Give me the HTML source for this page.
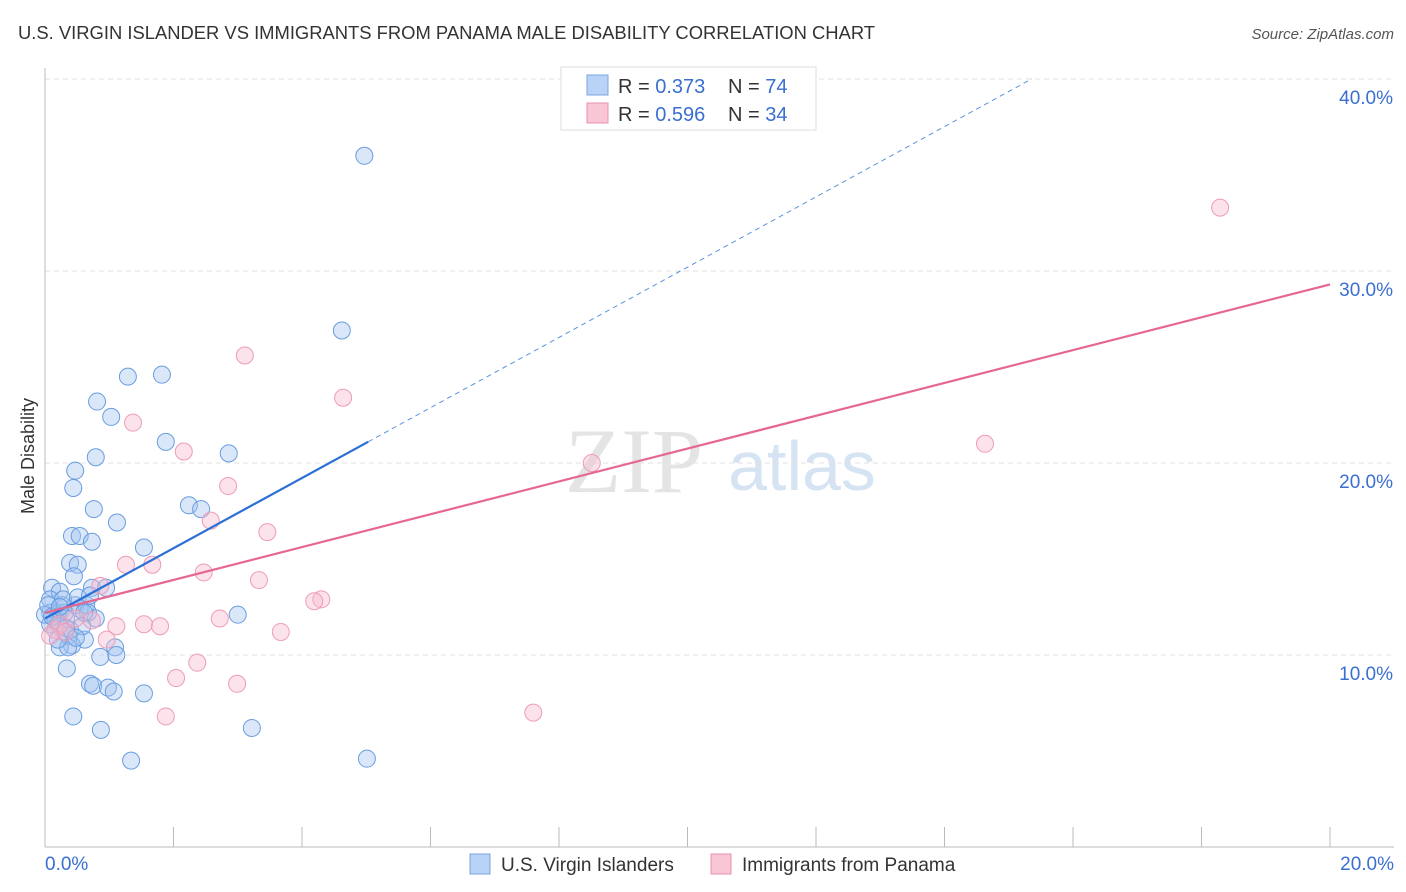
<!DOCTYPE html>
<html><head><meta charset="utf-8">
<style>
body{margin:0;background:#fff;font-family:"Liberation Sans",sans-serif}
svg{display:block}
</style></head>
<body>
<svg id="chart" width="1406" height="892">
<text x="18" y="39" font-size="18.4" fill="#333">U.S. VIRGIN ISLANDER VS IMMIGRANTS FROM PANAMA MALE DISABILITY CORRELATION CHART</text>
<text x="1394" y="39" font-size="15" fill="#555" font-style="italic" text-anchor="end">Source: ZipAtlas.com</text>
<text x="634" y="492" font-size="92" fill="#e4e4e4" font-family="Liberation Serif,serif" text-anchor="middle">ZIP</text>
<text x="802" y="490" font-size="70" fill="#d6e3f3" text-anchor="middle">atlas</text>
<text transform="translate(34,456) rotate(-90)" font-size="18" fill="#333" text-anchor="middle">Male Disability</text>
<g id="grid"></g><g id="ticks"></g><g id="pts"></g><g id="lines"></g>
<g>
<rect x="561" y="67" width="255" height="63" fill="#fff" stroke="#ddd"/>
<rect x="587" y="75" width="21" height="20" fill="#b8d3f5" stroke="#7aa6e0"/>
<rect x="587" y="103" width="21" height="20" fill="#f9c6d5" stroke="#eb92ae"/>
<text x="618" y="93" font-size="20" fill="#333">R = <tspan fill="#3a6fd0">0.373</tspan><tspan x="728">N = </tspan><tspan fill="#3a6fd0">74</tspan></text>
<text x="618" y="121" font-size="20" fill="#333">R = <tspan fill="#3a6fd0">0.596</tspan><tspan x="728">N = </tspan><tspan fill="#3a6fd0">34</tspan></text>
</g>
<g>
<rect x="470" y="854" width="20" height="20" fill="#b8d3f5" stroke="#7aa6e0"/>
<text x="501" y="871" font-size="19" fill="#333">U.S. Virgin Islanders</text>
<rect x="711" y="854" width="20" height="20" fill="#f9c6d5" stroke="#eb92ae"/>
<text x="742" y="871" font-size="19" fill="#333">Immigrants from Panama</text>
</g>
</svg>
<script>
const yTicks=[10,20,30,40];
const xTickLabels=["0.0%","20.0%"];
const blueX=[4.97,4.62,1.29,1.82,0.81,1.03,1.88,2.86,0.79,0.47,0.44,0.76,2.24,2.43,1.12,0.42,0.54,0.73,1.54,0.39,0.51,0.45,0.73,0.95,0.11,0.23,0.08,0.26,0.47,0.64,0.08,0.2,0.31,0.54,0.67,0.17,0.33,3.0,0.08,0.23,0.39,0.62,0.36,0.42,0.23,1.09,0.86,1.11,0.36,0.34,0.7,0.75,0.98,1.07,1.54,0.44,0.87,3.22,1.34,5.01,0.0,0.16,0.28,0.51,0.79,0.58,0.05,0.7,0.33,0.11,0.2,0.48,0.61,0.23];
const blueY=[36.0,26.9,24.5,24.6,23.2,22.4,21.1,20.5,20.3,19.6,18.7,17.6,17.8,17.6,16.9,16.2,16.2,15.9,15.6,14.8,14.7,14.1,13.5,13.5,13.5,13.3,12.9,12.6,12.6,12.6,12.2,12.2,12.2,12.4,12.2,11.8,11.9,12.1,11.6,11.5,11.3,10.8,11.0,10.5,10.4,10.4,9.9,10.0,10.4,9.3,8.5,8.4,8.3,8.1,8.0,6.8,6.1,6.2,4.5,4.6,12.1,11.3,12.9,13.0,11.9,11.5,12.6,13.1,11.4,12.0,10.8,10.9,12.2,12.5];
const pinkX=[18.29,3.11,4.64,1.37,2.16,8.51,14.63,2.85,2.58,3.46,1.67,1.26,0.86,2.47,3.33,4.3,4.19,2.72,3.67,1.54,1.79,1.11,0.73,0.96,2.37,2.04,2.99,1.88,7.6,0.16,0.23,0.31,0.08,0.47];
const pinkY=[33.3,25.6,23.4,22.1,20.6,20.0,21.0,18.8,17.0,16.4,14.7,14.7,13.6,14.3,13.9,12.9,12.8,11.9,11.2,11.6,11.5,11.5,11.8,10.8,9.6,8.8,8.5,6.8,7.0,11.3,11.6,11.2,11.0,11.9];
const blueFit=[11.9,1.83,5.03,15.36];
const pinkFit=[12.2,29.3];
const NS="http://www.w3.org/2000/svg";
const X=v=>45+v*64.25, Y=v=>847-v*19.2;
function mk(t,a,p){const e=document.createElementNS(NS,t);for(const k in a)e.setAttribute(k,a[k]);p.appendChild(e);return e;}
const grid=document.getElementById('grid'),ticks=document.getElementById('ticks'),pts=document.getElementById('pts'),lines=document.getElementById('lines');
yTicks.forEach(t=>{const l=mk('line',{x1:45,x2:1394,y1:Y(t),y2:Y(t),stroke:'#e2e2e2','stroke-dasharray':'5,4'},grid);


const tx=mk('text',{x:1393,y:Y(t)+25,'font-size':19,fill:'#3a6fd0','text-anchor':'end'},ticks);tx.textContent=t.toFixed(1)+'%';

});
const ax=mk('line',{x1:45,x2:45,y1:68,y2:847,stroke:'#bbb'},grid);


const bx=mk('line',{x1:45,x2:1394,y1:847,y2:847,stroke:'#bbb'},grid);


for(let i=1;i<=10;i++){const t=mk('line',{x1:X(i*2),x2:X(i*2),y1:827,y2:847,stroke:'#bbb'},grid);

}
[[0,'start',45],[20,'end',1394]].forEach((d,i)=>{const tx=mk('text',{x:d[2],y:870,'font-size':19,fill:'#3a6fd0','text-anchor':d[1]},ticks);tx.textContent=xTickLabels[i];

});
blueX.forEach((v,i)=>{const c=mk('circle',{cx:X(v),cy:Y(blueY[i]),r:8.5,fill:'rgba(160,196,240,0.4)',stroke:'#6a9de0','stroke-width':1},pts);

});
pinkX.forEach((v,i)=>{const c=mk('circle',{cx:X(v),cy:Y(pinkY[i]),r:8.5,fill:'rgba(248,185,205,0.4)',stroke:'#ee9cb6','stroke-width':1},pts);

});
const b1=mk('line',{x1:X(0),y1:Y(blueFit[0]),x2:X(blueFit[2]),y2:Y(blueFit[0]+blueFit[1]*blueFit[2]),stroke:'#2a6fd6','stroke-width':2.2},lines);


const b2=mk('line',{x1:X(blueFit[2]),y1:Y(blueFit[0]+blueFit[1]*blueFit[2]),x2:X(blueFit[3]),y2:Y(blueFit[0]+blueFit[1]*blueFit[3]),stroke:'#5b93dd','stroke-width':1,'stroke-dasharray':'5,4'},lines);


const p1=mk('line',{x1:X(0),y1:Y(pinkFit[0]),x2:X(20),y2:Y(pinkFit[1]),stroke:'#e56792','stroke-width':2.2},lines);


</script>
</body></html>
